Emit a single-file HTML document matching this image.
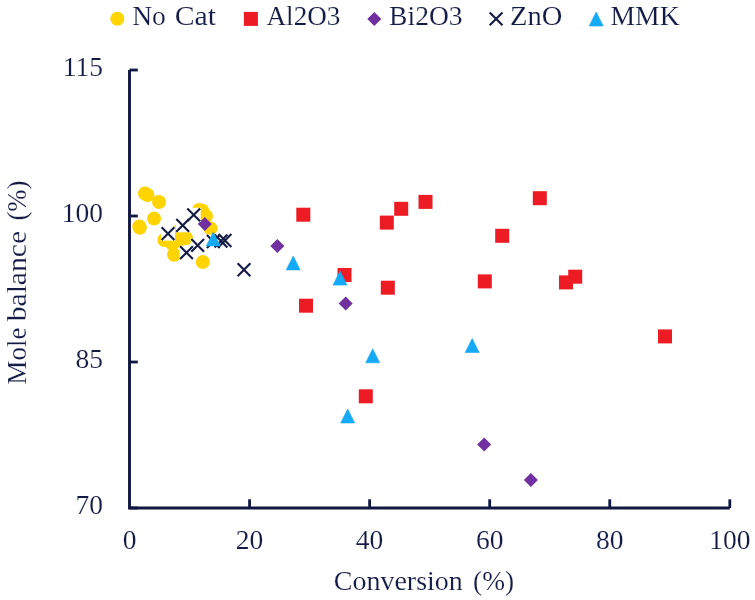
<!DOCTYPE html>
<html><head><meta charset="utf-8"><style>
html,body{margin:0;padding:0;background:#fff;width:755px;height:600px;overflow:hidden}
svg{display:block;will-change:transform}
text{font-family:"Liberation Serif",serif;font-size:27.5px;fill:#141b45;stroke:#fff;stroke-width:0.15px}
</style></head><body>
<svg width="755" height="600" viewBox="0 0 755 600">
<path d="M129.5 70V508H729.8" stroke="#111840" stroke-width="2.9" fill="none" stroke-linejoin="miter"/>
<path d="M129.5 70.00H137.8" stroke="#111840" stroke-width="2.8"/>
<path d="M129.5 216.00H137.8" stroke="#111840" stroke-width="2.8"/>
<path d="M129.5 362.00H137.8" stroke="#111840" stroke-width="2.8"/>
<path d="M129.5 508.00H137.8" stroke="#111840" stroke-width="2.8"/>
<path d="M249.56 508V499.3" stroke="#111840" stroke-width="2.8"/>
<path d="M369.62 508V499.3" stroke="#111840" stroke-width="2.8"/>
<path d="M489.68 508V499.3" stroke="#111840" stroke-width="2.8"/>
<path d="M609.74 508V499.3" stroke="#111840" stroke-width="2.8"/>
<path d="M729.80 508V499.3" stroke="#111840" stroke-width="2.8"/>
<text x="103.1" y="76.30" text-anchor="end">115</text>
<text x="103.1" y="222.30" text-anchor="end">100</text>
<text x="103.1" y="368.30" text-anchor="end">85</text>
<text x="103.1" y="514.30" text-anchor="end">70</text>
<text x="129.50" y="549.4" text-anchor="middle">0</text>
<text x="249.56" y="549.4" text-anchor="middle">20</text>
<text x="369.62" y="549.4" text-anchor="middle">40</text>
<text x="489.68" y="549.4" text-anchor="middle">60</text>
<text x="609.74" y="549.4" text-anchor="middle">80</text>
<text x="729.80" y="549.4" text-anchor="middle">100</text>
<text x="333.75" y="590" textLength="129.07" lengthAdjust="spacingAndGlyphs">Conversion</text>
<text x="473.10" y="590" textLength="41.00" lengthAdjust="spacingAndGlyphs">(%)</text>
<g transform="translate(26.3 383.7) rotate(-90)"><text x="-0.78" y="0" textLength="56.81" lengthAdjust="spacingAndGlyphs">Mole</text><text x="62.40" y="0" textLength="90.43" lengthAdjust="spacingAndGlyphs">balance</text><text x="163.13" y="0" textLength="39.94" lengthAdjust="spacingAndGlyphs">(%)</text></g>
<text x="132.21" y="25" textLength="33.64" lengthAdjust="spacingAndGlyphs">No</text>
<text x="174.68" y="25" textLength="41.40" lengthAdjust="spacingAndGlyphs">Cat</text>
<text x="266.53" y="25" textLength="73.93" lengthAdjust="spacingAndGlyphs">Al2O3</text>
<text x="389.11" y="25" textLength="73.47" lengthAdjust="spacingAndGlyphs">Bi2O3</text>
<text x="510.03" y="25" textLength="52.34" lengthAdjust="spacingAndGlyphs">ZnO</text>
<text x="610.50" y="25" textLength="69.18" lengthAdjust="spacingAndGlyphs">MMK</text>
<circle cx="117.3" cy="18.8" r="7" fill="#ffd400"/>
<rect x="243.90" y="11.90" width="14" height="14" fill="#ed1c24"/>
<path d="M374.30 11.90L381.30 18.90L374.30 25.90L367.30 18.90Z" fill="#7030a0"/>
<path d="M489.70 12.45L502.50 25.25M502.50 12.45L489.70 25.25" stroke="#141b45" stroke-width="2.1" fill="none"/>
<path d="M596.20 12.00L603.20 26.00L589.20 26.00Z" fill="#14aaf5" stroke="#14aaf5" stroke-width="0.6" stroke-linejoin="round"/>
<circle cx="145" cy="193.5" r="7" fill="#ffd400"/>
<circle cx="147.5" cy="195" r="7" fill="#ffd400"/>
<circle cx="159" cy="202" r="7" fill="#ffd400"/>
<circle cx="154" cy="218.6" r="7" fill="#ffd400"/>
<circle cx="139.3" cy="226.5" r="7" fill="#ffd400"/>
<circle cx="139.8" cy="227.8" r="7" fill="#ffd400"/>
<circle cx="199" cy="210" r="7" fill="#ffd400"/>
<circle cx="202" cy="210.5" r="7" fill="#ffd400"/>
<circle cx="206" cy="216" r="7" fill="#ffd400"/>
<circle cx="210.5" cy="228.5" r="7" fill="#ffd400"/>
<circle cx="164.3" cy="240" r="7" fill="#ffd400"/>
<circle cx="172.5" cy="244" r="7" fill="#ffd400"/>
<circle cx="180" cy="240" r="7" fill="#ffd400"/>
<circle cx="186" cy="238" r="7" fill="#ffd400"/>
<circle cx="179" cy="231" r="7" fill="#ffd400"/>
<circle cx="174" cy="254.7" r="7" fill="#ffd400"/>
<circle cx="202.8" cy="262" r="7" fill="#ffd400"/>
<rect x="296.30" y="207.70" width="14" height="14" fill="#ed1c24"/>
<rect x="337.50" y="268.00" width="14" height="14" fill="#ed1c24"/>
<rect x="299.00" y="298.70" width="14" height="14" fill="#ed1c24"/>
<rect x="379.80" y="215.60" width="14" height="14" fill="#ed1c24"/>
<rect x="394.20" y="201.80" width="14" height="14" fill="#ed1c24"/>
<rect x="418.50" y="194.90" width="14" height="14" fill="#ed1c24"/>
<rect x="380.80" y="280.70" width="14" height="14" fill="#ed1c24"/>
<rect x="532.80" y="191.20" width="14" height="14" fill="#ed1c24"/>
<rect x="495.20" y="228.80" width="14" height="14" fill="#ed1c24"/>
<rect x="477.80" y="274.40" width="14" height="14" fill="#ed1c24"/>
<rect x="568.20" y="269.70" width="14" height="14" fill="#ed1c24"/>
<rect x="559.00" y="275.40" width="14" height="14" fill="#ed1c24"/>
<rect x="358.80" y="389.30" width="14" height="14" fill="#ed1c24"/>
<rect x="658.00" y="329.40" width="14" height="14" fill="#ed1c24"/>
<path d="M277.30 238.90L284.30 245.90L277.30 252.90L270.30 245.90Z" fill="#7030a0"/>
<path d="M345.70 296.50L352.70 303.50L345.70 310.50L338.70 303.50Z" fill="#7030a0"/>
<path d="M484.20 437.40L491.20 444.40L484.20 451.40L477.20 444.40Z" fill="#7030a0"/>
<path d="M530.90 473.00L537.90 480.00L530.90 487.00L523.90 480.00Z" fill="#7030a0"/>
<path d="M204.80 217.10L211.80 224.10L204.80 231.10L197.80 224.10Z" fill="#7030a0"/>
<rect x="186.70" y="207.80" width="14" height="14" fill="#fff"/>
<rect x="175.70" y="218.30" width="14" height="14" fill="#fff"/>
<rect x="161.00" y="226.60" width="14" height="14" fill="#fff"/>
<rect x="190.70" y="238.30" width="14" height="14" fill="#fff"/>
<rect x="179.50" y="245.70" width="14" height="14" fill="#fff"/>
<rect x="206.30" y="234.50" width="14" height="14" fill="#fff"/>
<rect x="214.00" y="234.00" width="14" height="14" fill="#fff"/>
<rect x="218.00" y="233.50" width="14" height="14" fill="#fff"/>
<rect x="237.00" y="262.75" width="14" height="14" fill="#fff"/>
<path d="M187.30 208.40L200.10 221.20M200.10 208.40L187.30 221.20" stroke="#141b45" stroke-width="2.1" fill="none"/>
<path d="M176.30 218.90L189.10 231.70M189.10 218.90L176.30 231.70" stroke="#141b45" stroke-width="2.1" fill="none"/>
<path d="M161.60 227.20L174.40 240.00M174.40 227.20L161.60 240.00" stroke="#141b45" stroke-width="2.1" fill="none"/>
<path d="M191.30 238.90L204.10 251.70M204.10 238.90L191.30 251.70" stroke="#141b45" stroke-width="2.1" fill="none"/>
<path d="M180.10 246.30L192.90 259.10M192.90 246.30L180.10 259.10" stroke="#141b45" stroke-width="2.1" fill="none"/>
<path d="M206.90 235.10L219.70 247.90M219.70 235.10L206.90 247.90" stroke="#141b45" stroke-width="2.1" fill="none"/>
<path d="M214.60 234.60L227.40 247.40M227.40 234.60L214.60 247.40" stroke="#141b45" stroke-width="2.1" fill="none"/>
<path d="M218.60 234.10L231.40 246.90M231.40 234.10L218.60 246.90" stroke="#141b45" stroke-width="2.1" fill="none"/>
<path d="M237.60 263.35L250.40 276.15M250.40 263.35L237.60 276.15" stroke="#141b45" stroke-width="2.1" fill="none"/>
<path d="M213.30 231.90L220.30 245.90L206.30 245.90Z" fill="#14aaf5" stroke="#14aaf5" stroke-width="0.6" stroke-linejoin="round"/>
<path d="M293.20 255.90L300.20 269.90L286.20 269.90Z" fill="#14aaf5" stroke="#14aaf5" stroke-width="0.6" stroke-linejoin="round"/>
<path d="M340.00 271.10L347.00 285.10L333.00 285.10Z" fill="#14aaf5" stroke="#14aaf5" stroke-width="0.6" stroke-linejoin="round"/>
<path d="M372.70 348.80L379.70 362.80L365.70 362.80Z" fill="#14aaf5" stroke="#14aaf5" stroke-width="0.6" stroke-linejoin="round"/>
<path d="M472.20 338.50L479.20 352.50L465.20 352.50Z" fill="#14aaf5" stroke="#14aaf5" stroke-width="0.6" stroke-linejoin="round"/>
<path d="M347.70 409.00L354.70 423.00L340.70 423.00Z" fill="#14aaf5" stroke="#14aaf5" stroke-width="0.6" stroke-linejoin="round"/>
</svg>
</body></html>
